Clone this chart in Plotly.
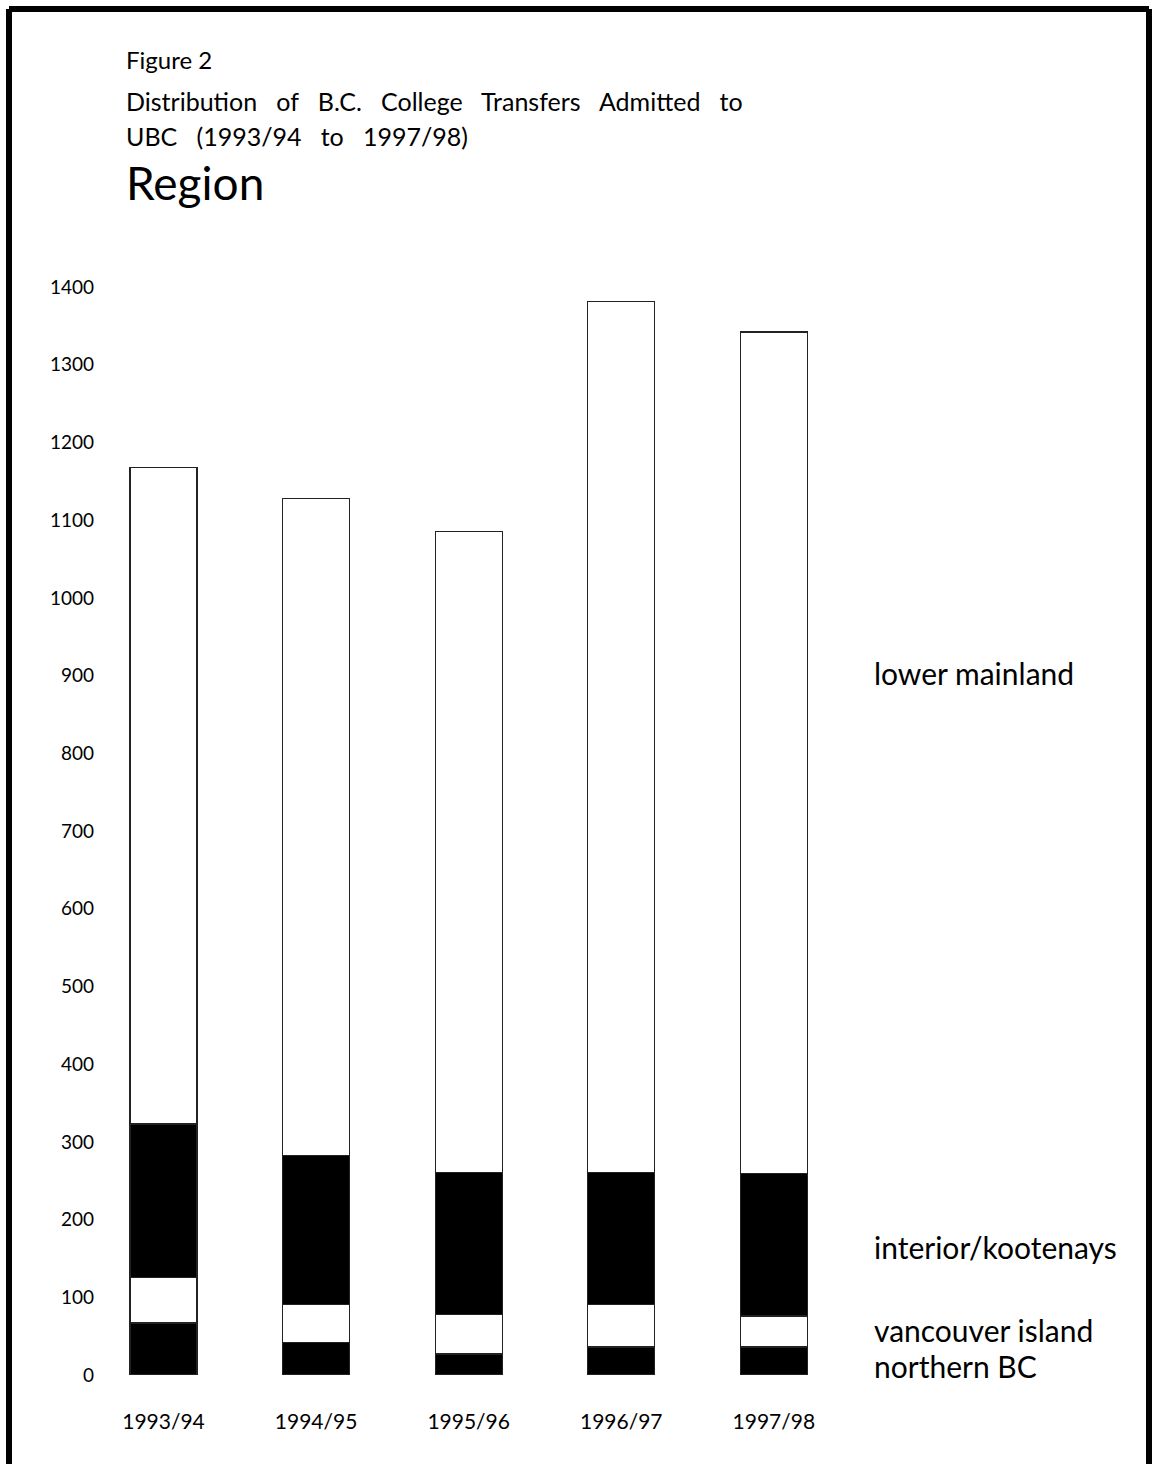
import plotly.graph_objects as go

years = ["1993/94", "1994/95", "1995/96", "1996/97", "1997/98"]
northern_bc = [67, 42, 27, 36, 36]
vancouver_island = [58, 49, 51, 55, 40]
interior_kootenays = [198, 191, 183, 170, 183]
lower_mainland = [845, 846, 824, 1120, 1083]

y_ticks = [0, 100, 200, 300, 400, 500, 600, 700, 800, 900, 1000, 1100, 1200, 1300, 1400]

FONT = "Lato, sans-serif"
W, H = 1154, 1464
L, R, T, B = 100, 304, 287, 89
PW, PH = W - L - R, H - T - B


def px(x):
    return (x - L) / PW


def py(y):
    return (H - B - y) / PH


series = [
    ("northern BC", northern_bc, "black"),
    ("vancouver island", vancouver_island, "white"),
    ("interior/kootenays", interior_kootenays, "black"),
    ("lower mainland", lower_mainland, "white"),
]

fig = go.Figure()
for name, vals, col in series:
    fig.add_trace(go.Bar(
        x=years, y=vals, name=name, width=0.44,
        marker=dict(color=col, line=dict(color="#222", width=1.2)),
        hoverinfo="y+name",
    ))

fig.update_layout(
    barmode="stack",
    width=W, height=H,
    margin=dict(l=L, r=R, t=T, b=B),
    paper_bgcolor="white", plot_bgcolor="white",
    showlegend=False,
    font=dict(family=FONT, color="black"),
    xaxis=dict(range=[-0.416, 4.499], showgrid=False, zeroline=False,
               showline=False, ticks="", tickfont=dict(size=21),
               ticklabelstandoff=32),
    yaxis=dict(range=[0, 1400], tickvals=y_ticks, showgrid=False,
               zeroline=False, showline=False, ticks="",
               tickfont=dict(size=19), ticklabelstandoff=5),
)

# page frame
for x0, y0, x1, y1 in [(9, 9, 9, 1500), (9, 9, 1149, 9), (1149, 9, 1149, 1500)]:
    fig.add_shape(type="line", xref="paper", yref="paper",
                  x0=px(x0), y0=py(y0), x1=px(x1), y1=py(y1),
                  line=dict(color="black", width=6))

titles = [
    ("Figure 2", 60, 24),
    ("Distribution   of   B.C.   College   Transfers   Admitted   to", 101, 25),
    ("UBC   (1993/94   to   1997/98)", 136, 25),
    ("Region", 182, 46),
]
for text, yc, size in titles:
    fig.add_annotation(text=text, xref="paper", yref="paper", x=px(124), y=py(yc),
                       xanchor="left", yanchor="middle", showarrow=False,
                       font=dict(size=size, family=FONT, color="black"))

labels = [
    ("lower mainland", 673),
    ("interior/kootenays", 1247),
    ("vancouver island", 1330),
    ("northern BC", 1366),
]
for text, yc in labels:
    fig.add_annotation(text=text, xref="paper", yref="paper", x=px(872), y=py(yc),
                       xanchor="left", yanchor="middle", showarrow=False,
                       font=dict(size=30, family=FONT, color="black"))

fig.write_html("out.html", config={"displayModeBar": False},
               post_script="document.body.style.margin='0';")
